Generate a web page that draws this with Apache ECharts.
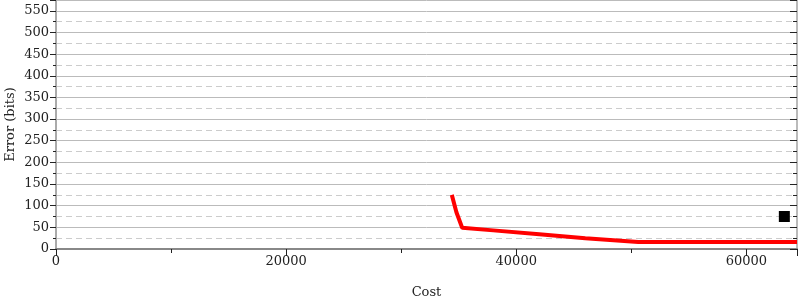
<!DOCTYPE html>
<html><head><meta charset="utf-8">
<script src="https://cdn.jsdelivr.net/npm/echarts@6/dist/echarts.min.js"></script>
<style>html,body{margin:0;padding:0;background:#fff}#c{width:800px;height:300px}</style>
</head><body><div id="c"></div>
<script>
var lineCost = [34400, 34800, 35300, 38000, 42000, 46000, 50600, 55000, 60000, 64400];
var lineError = [125, 85, 49, 43, 34, 25, 16, 16, 16, 16];
var pointCost = [63300];
var pointError = [75];
var xTicks = [0, 20000, 40000, 60000];
var yTicks = [0, 50, 100, 150, 200, 250, 300, 350, 400, 450, 500, 550];

var chart = echarts.init(document.getElementById('c'));
var font = 'DejaVu Serif';
chart.setOption({
  animation: false,
  grid: {left: 56, right: 3, top: 0, bottom: 51, containLabel: false, outerBoundsMode: 'none'},
  xAxis: [{
    type: 'value', min: 0, max: 64400, interval: 20000,
    name: 'Cost', nameLocation: 'middle', nameGap: 37,
    nameTextStyle: {fontFamily: font, fontSize: 13, color: '#222'},
    axisLine: {show: true, lineStyle: {color: '#888', width: 2}},
    axisTick: {show: true, inside: false, length: 7, lineStyle: {color: '#222'}},
    minorTick: {show: true, splitNumber: 2, length: 4, lineStyle: {color: '#222'}},
    axisLabel: {fontFamily: font, fontSize: 13, color: '#222', margin: 6,
      formatter: function(v){ return xTicks.indexOf(v) >= 0 ? String(v) : ''; }},
    splitLine: {show: false}
  }],
  yAxis: [{
    type: 'value', min: 0, max: 575, interval: 50,
    name: 'Error (bits)', nameLocation: 'middle', nameGap: 39, nameMoveOverlap: false,
    nameTextStyle: {fontFamily: font, fontSize: 13, color: '#222'},
    axisLine: {show: true, lineStyle: {color: '#aaa', width: 2}},
    axisTick: {show: true, length: 6, lineStyle: {color: '#222'}},
    minorTick: {show: true, splitNumber: 2, length: 3, lineStyle: {color: '#222'}},
    axisLabel: {fontFamily: font, fontSize: 13, color: '#222', margin: 7,
      formatter: function(v){ return yTicks.indexOf(v) >= 0 ? String(v) : ''; }},
    splitLine: {show: true, lineStyle: {color: '#bbb', width: 1}},
    minorSplitLine: {show: true, lineStyle: {color: '#ccc', type: [6, 4], width: 1}}
  }, {
    type: 'value', min: 0, max: 575, interval: 50, position: 'right',
    axisLine: {show: true, lineStyle: {color: '#bbb', width: 2}},
    axisTick: {show: true, inside: true, length: 7, lineStyle: {color: '#222'}},
    minorTick: {show: true, splitNumber: 2, length: 4, lineStyle: {color: '#222'}},
    axisLabel: {show: false},
    splitLine: {show: false}
  }],
  series: [{
    type: 'line', xAxisIndex: 0, yAxisIndex: 0,
    data: lineCost.map(function(c, i){ return [c, lineError[i]]; }),
    showSymbol: false, symbol: 'none',
    lineStyle: {color: '#ff0000', width: 4}
  }, {
    type: 'scatter', xAxisIndex: 0, yAxisIndex: 0,
    data: pointCost.map(function(c, i){ return [c, pointError[i]]; }),
    symbol: 'rect', symbolSize: 11,
    itemStyle: {color: '#000', opacity: 1}
  }]
});
</script></body></html>
